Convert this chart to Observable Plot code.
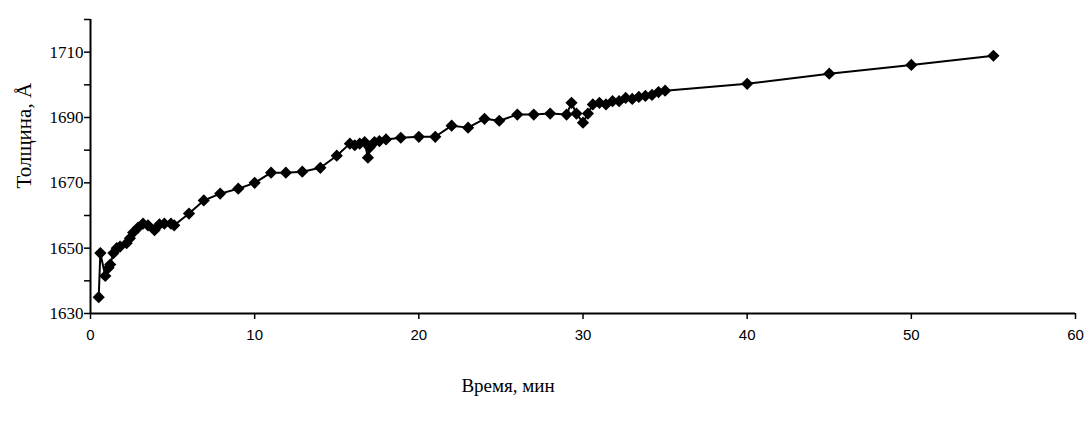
<!DOCTYPE html>
<html><head><meta charset="utf-8">
<script src="https://cdn.jsdelivr.net/npm/d3@7"></script>
<script src="https://cdn.jsdelivr.net/npm/@observablehq/plot@0.6"></script>
<style>body{margin:0;background:#fff} #chart svg{display:block}
g[aria-label="x-title"] text{letter-spacing:2px}</style>
</head><body><div id="chart"></div>
<script>
const time = [0.5,0.6,0.9,1.1,1.2,1.4,1.6,1.8,2.2,2.4,2.6,2.9,3.2,3.5,3.9,4.2,4.5,4.9,5.1,
  6.0,6.9,7.9,9.0,10.0,11.0,11.9,12.9,14.0,15.0,15.8,16.1,16.4,16.7,16.9,17.0,17.3,17.6,18.0,
  18.9,20.0,21.0,22.0,23.0,24.0,24.9,26.0,27.0,28.0,29.0,29.3,29.6,30.0,30.3,30.6,31.0,31.4,
  31.8,32.2,32.6,33.0,33.4,33.8,34.2,34.6,35.0,40.0,45.0,50.0,55.0];
const thickness = [1635,1648.5,1641.5,1644,1645,1648.5,1650,1650.5,1651.5,1653,1654.8,1656.3,1657.5,1657,1655.5,1657.3,1657.5,1657.5,1657,
  1660.6,1664.6,1666.7,1668.2,1670,1673.1,1673.1,1673.4,1674.6,1678.3,1682,1681.5,1682,1682.5,1677.7,1680.8,1682.5,1682.8,1683.3,
  1683.8,1684.1,1684.1,1687.5,1686.9,1689.6,1689,1690.9,1690.9,1691.2,1690.9,1694.5,1691.2,1688.4,1691.2,1694,1694.5,1694,
  1695,1695,1696,1695.7,1696.3,1696.6,1696.9,1697.8,1698.2,1700.3,1703.4,1706.1,1708.9];
const xTicks = [0,10,20,30,40,50,60];
const yTicks = [1630,1640,1650,1660,1670,1680,1690,1700,1710,1720];
const yLabelTicks = [1630,1650,1670,1690,1710];
const xTitle = "Время, мин";
const yTitle = "Толщина, Å";

const data = time.map((t,i)=>({t, v: thickness[i]}));
const chart = Plot.plot({
  width:1091, height:423, marginLeft:90, marginRight:16, marginTop:19, marginBottom:110,
  style:{background:"#fff", color:"#000"},
  x:{domain:[0,60]}, y:{domain:[1630,1720]},
  marks:[
    Plot.axisX(xTicks, {tickSize:6, tickPadding:10, fontSize:15, fontFamily:"Liberation Sans", label:null, strokeWidth:1.5, fill:"#000"}),
    Plot.axisY(yTicks, {tickSize:6, tickPadding:1, tickFormat: d => yLabelTicks.includes(d) ? String(d) : "", fontSize:17, fontFamily:"Liberation Serif", label:null, strokeWidth:1.5, fill:"#000"}),
    Plot.ruleX([0], {y1:1630, y2:1720, strokeWidth:2}),
    Plot.ruleY([1630], {x1:0, x2:60, strokeWidth:2}),
    Plot.line(data, {x:"t", y:"v", stroke:"#000", strokeWidth:2}),
    Plot.dot(data, {x:"t", y:"v", symbol:"diamond2", r:5.5, fill:"#000", stroke:"none"}),
    Plot.text([xTitle], {ariaLabel:"x-title", frameAnchor:"bottom", lineAnchor:"middle", dx:-75, dy:72, fontSize:19, fontFamily:"Liberation Serif", fill:"#000"}),
    Plot.text([yTitle], {frameAnchor:"left", lineAnchor:"middle", dx:-66, dy:22, rotate:-90, fontSize:21, fontFamily:"Liberation Serif", fill:"#000"})
  ]
});
document.getElementById("chart").append(chart);
</script>
</body></html>
